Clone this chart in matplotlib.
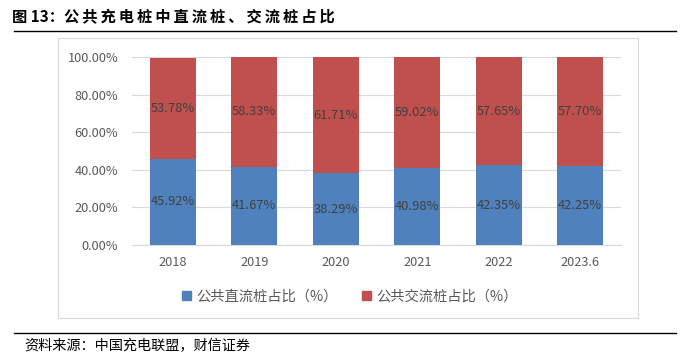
import matplotlib
matplotlib.use("Agg")
import matplotlib.pyplot as plt
from matplotlib.patches import Rectangle
from matplotlib.lines import Line2D

plt.rcParams['font.family'] = ['Noto Sans CJK SC', 'DejaVu Sans']

categories = ["2018", "2019", "2020", "2021", "2022", "2023.6"]
dc_share = [45.92, 41.67, 38.29, 40.98, 42.35, 42.25]
ac_share = [53.78, 58.33, 61.71, 59.02, 57.65, 57.70]
series_names = ["公共直流桩占比（%）", "公共交流桩占比（%）"]
yticks = [0, 20, 40, 60, 80, 100]
title = "图 13：公共充电桩中直流桩、交流桩占比"
source = "资料来源：中国充电联盟，财信证券"

blue = "#4F81BD"
red = "#C0504D"
gray_text = "#595959"

fig = plt.figure(figsize=(6.8, 3.63), dpi=100)

# chart frame
fig.patches.append(Rectangle((58/680, 1-318/363), 580/680, 280/363, transform=fig.transFigure,
                             fill=False, edgecolor="#D9D9D9", linewidth=0.8))
# title and rules (spaced characters)
spaced_title = "图 13：" + "\u2009".join(title.split("：", 1)[1])
fig.text(12/680, 1-17/363, spaced_title, fontsize=11, fontweight="bold",
         ha="left", va="center", color="black", family=['Noto Sans CJK SC', 'DejaVu Sans'])
fig.add_artist(Line2D([14/680, 676/680], [1-31/363, 1-31/363], color="black", linewidth=1.0,
                      transform=fig.transFigure))
fig.add_artist(Line2D([14/680, 676/680], [1-333/363, 1-333/363], color="black", linewidth=1.0,
                      transform=fig.transFigure))
fig.text(24/680, 1-346/363, source, fontsize=10.2, style="italic",
         ha="left", va="center", color="black")

ax = fig.add_axes([132/680, 1-245/363, 489/680, 188/363])
x = list(range(len(categories)))
w = 0.565
ax.bar(x, dc_share, width=w, color=blue, label=series_names[0], zorder=3)
ax.bar(x, ac_share, width=w, bottom=dc_share, color=red, label=series_names[1], zorder=3)

for i in x:
    ax.text(i, dc_share[i] / 2, f"{dc_share[i]:.2f}%", ha="center", va="center",
            fontsize=9.3, color="#404040", zorder=4)
    ax.text(i, dc_share[i] + ac_share[i] / 2, f"{ac_share[i]:.2f}%", ha="center", va="center",
            fontsize=9.3, color="#404040", zorder=4)

ax.set_xlim(-0.5, len(categories) - 0.5)
ax.set_ylim(0, 100)
ax.set_yticks(yticks)
ax.set_yticklabels([f"{v:.2f}%" for v in yticks], fontsize=9.2, color=gray_text)
ax.set_xticks(x)
ax.set_xticklabels(categories, fontsize=9.2, color=gray_text)
ax.tick_params(axis="both", length=0, pad=8)
ax.tick_params(axis="y", pad=10)
ax.grid(axis="y", color="#D9D9D9", linewidth=0.8, zorder=0)
for s in ["top", "right", "left"]:
    ax.spines[s].set_visible(False)
ax.spines["bottom"].set_color("#D9D9D9")

handles = [Rectangle((0, 0), 1, 1, color=blue), Rectangle((0, 0), 1, 1, color=red)]
fig.legend(handles, series_names, loc="center", bbox_to_anchor=(350/680, 1-297/363), ncol=2,
           frameon=False, fontsize=10.3, handlelength=0.6, handleheight=0.6, handletextpad=0.4,
           columnspacing=1.7, labelcolor=gray_text)

fig.savefig("out.png", dpi=100)
